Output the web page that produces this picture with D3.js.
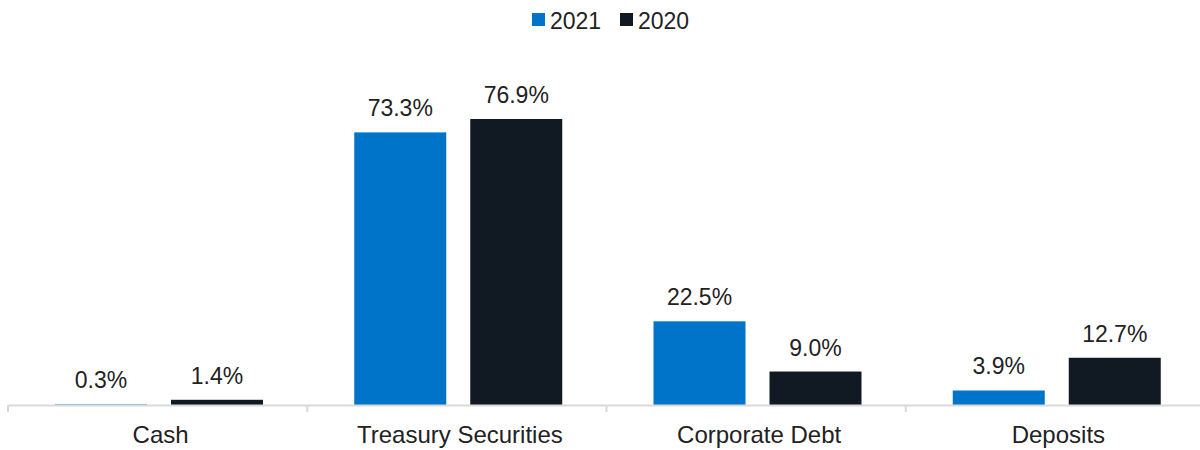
<!DOCTYPE html>
<html><head><meta charset="utf-8">
<script src="https://cdn.jsdelivr.net/npm/d3@7/dist/d3.min.js"></script>
<style>body{margin:0;background:#fff;}svg{display:block;font-family:"Liberation Sans",Arial,sans-serif;}</style>
</head><body><svg id="c" width="1200" height="450"></svg>
<script>
const categories = ["Cash", "Treasury Securities", "Corporate Debt", "Deposits"];
const seriesNames = ["2021", "2020"];
const values2021 = [0.3, 73.3, 22.5, 3.9];
const values2020 = [1.4, 76.9, 9.0, 12.7];
const colors = ["#0074C8", "#111A22"];

const svg = d3.select("#c");
const x = d3.scaleBand().domain(categories).range([8, 1205]);
const inner = d3.scaleBand().domain(seriesNames).range([47, 255]).paddingInner(24 / 116);
const y = d3.scaleLinear().domain([0, 76.9]).range([405, 119]);
const seriesVals = [values2021, values2020];

categories.forEach((c, i) => {
  seriesNames.forEach((s, j) => {
    const v = seriesVals[j][i];
    const bx = x(c) + inner(s);
    svg.append("rect").attr("x", bx).attr("y", y(v)).attr("width", inner.bandwidth())
      .attr("height", y(0) - y(v)).attr("fill", colors[j]).attr("opacity", v < 1 ? 0.55 : 1);
    svg.append("text").attr("x", bx + inner.bandwidth() / 2).attr("y", y(v) - 16)
      .attr("text-anchor", "middle").attr("font-size", 23).attr("fill", "#222")
      .text(v.toFixed(1) + "%");
  });
});

const axis = d3.axisBottom(x).tickSize(0).tickPadding(0);
const g = svg.append("g").attr("transform", "translate(0,405)").call(axis);
g.select(".domain").attr("stroke", "#d9d9d9").attr("stroke-width", 2);
g.selectAll(".tick text").attr("font-size", 24).attr("fill", "#222").attr("dy", 0).attr("y", 38).attr("x", 3).style("font-family", "Liberation Sans, Arial, sans-serif");
categories.forEach(c => {
  svg.append("line").attr("x1", x(c)).attr("x2", x(c)).attr("y1", 405).attr("y2", 412).attr("stroke", "#d9d9d9").attr("stroke-width", 2);
});

const legend = svg.append("g");
const legX = [532, 620];
seriesNames.forEach((s, j) => {
  legend.append("rect").attr("x", legX[j]).attr("y", 13).attr("width", 13).attr("height", 13).attr("fill", colors[j]);
  legend.append("text").attr("x", legX[j] + 18).attr("y", 29).attr("font-size", 23).attr("fill", "#222").text(s);
});
</script></body></html>
